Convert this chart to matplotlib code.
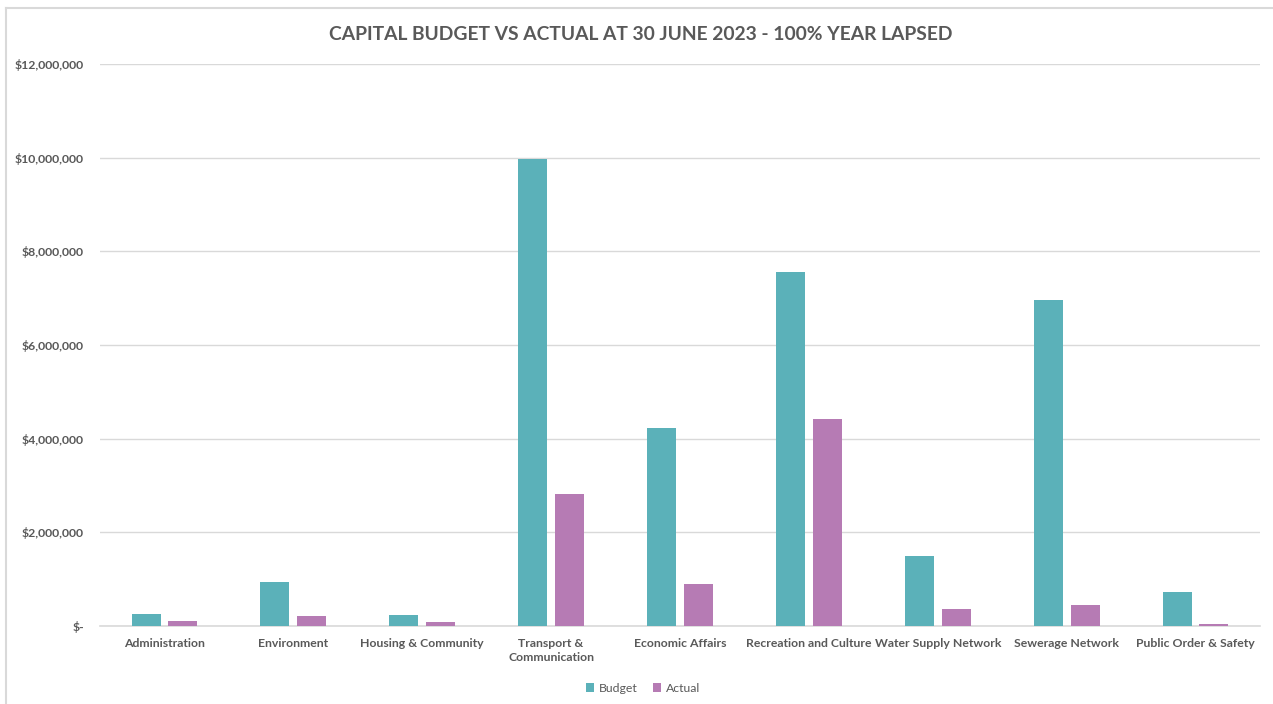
import matplotlib
matplotlib.use("Agg")
import matplotlib.pyplot as plt
from matplotlib.lines import Line2D
from matplotlib.ticker import FuncFormatter
import numpy as np

categories = [
    "Administration", "Environment", "Housing & Community",
    "Transport &\nCommunication", "Economic Affairs", "Recreation and Culture",
    "Water Supply Network", "Sewerage Network", "Public Order & Safety",
]
budget = [257000, 940000, 230000, 9970000, 4230000, 7550000, 1500000, 6970000, 735000]
actual = [107000, 212000, 80000, 2820000, 900000, 4430000, 370000, 450000, 50000]

TEAL = "#5BB1B9"
PURPLE = "#B67BB4"
TEXT = "#595959"
GRID = "#D9D9D9"

plt.rcParams["font.family"] = ["Lato", "DejaVu Sans"]

W, H = 1273, 704
fig = plt.figure(figsize=(W / 100, H / 100), dpi=100)
ax = fig.add_axes([100 / W, (H - 626) / H, (1260 - 100) / W, (626 - 64) / H])

x = np.arange(len(categories))
bw = 0.225
gap = 0.06
ax.bar(x - (bw + gap) / 2, budget, bw, color=TEAL, label="Budget", zorder=3)
ax.bar(x + (bw + gap) / 2, actual, bw, color=PURPLE, label="Actual", zorder=3)

ax.set_xlim(-0.5, len(categories) - 0.5)
ax.set_ylim(0, 12_000_000)
ax.set_yticks(np.arange(0, 12_000_001, 2_000_000))


def money(v, _):
    return "$-" if v == 0 else f"${v:,.0f}"


ax.yaxis.set_major_formatter(FuncFormatter(money))
ax.set_xticks(x)
ax.set_xticklabels(categories, fontsize=8.8, fontweight="bold", color=TEXT, linespacing=1.35)
ax.tick_params(axis="y", labelsize=8.8, colors=TEXT, length=0, pad=11.5)
ax.tick_params(axis="x", length=0, pad=8.8, colors=TEXT)
for lbl in ax.get_yticklabels():
    lbl.set_fontweight("bold")

ax.grid(axis="y", color=GRID, linewidth=1, zorder=0)
for side in ("top", "right", "left"):
    ax.spines[side].set_visible(False)
ax.spines["bottom"].set_color(GRID)
ax.spines["bottom"].set_linewidth(1.2)

fig.text(641 / W, 1 - 35 / H, "CAPITAL BUDGET VS ACTUAL AT 30 JUNE 2023 - 100% YEAR LAPSED",
         ha="center", va="center", fontsize=13.9, fontweight="bold", color=TEXT)

leg = fig.legend(loc="center", bbox_to_anchor=(643 / W, 1 - 688 / H), ncol=2, frameon=False,
                 fontsize=8.8, handlelength=0.7, handleheight=0.7, handletextpad=0.4,
                 columnspacing=1.2)
for t in leg.get_texts():
    t.set_color(TEXT)

# chart-area border
fig.add_artist(Line2D([6 / W, 1], [1 - 8 / H, 1 - 8 / H], color=GRID, linewidth=1.5,
                      transform=fig.transFigure))
fig.add_artist(Line2D([6 / W, 6 / W], [0, 1 - 8 / H], color=GRID, linewidth=1.5,
                      transform=fig.transFigure))

fig.savefig("out.png", dpi=100, facecolor="white")
